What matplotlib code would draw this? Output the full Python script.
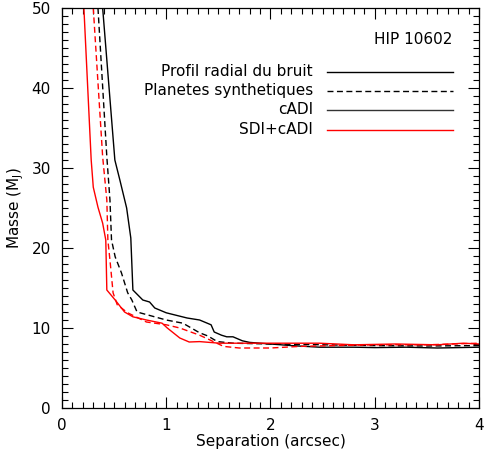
import matplotlib
matplotlib.use("Agg")
import matplotlib.pyplot as plt
from matplotlib.ticker import MultipleLocator

# cADI, radial noise profile (solid black)
sep_cadi_prof = [0.39, 0.507, 0.555, 0.62, 0.66, 0.68, 0.775, 0.84, 0.89, 1.0, 1.2, 1.32, 1.43,
                 1.46, 1.53, 1.58, 1.64, 1.73, 1.8, 2.0, 2.2, 2.47, 2.8, 3.0, 3.3, 3.6, 4.0]
mass_cadi_prof = [50, 31.0, 28.5, 25.0, 21.25, 14.75, 13.5, 13.25, 12.5, 11.9, 11.25, 11.0, 10.4,
                  9.5, 9.1, 8.9, 8.9, 8.4, 8.2, 8.0, 7.8, 7.6, 7.6, 7.55, 7.6, 7.5, 7.6]

# cADI, synthetic planets (dashed black)
sep_cadi_synth = [0.345, 0.43, 0.46, 0.475, 0.51, 0.57, 0.63, 0.67, 0.72, 1.0, 1.16, 1.32, 1.40,
                  1.49, 1.64, 2.0, 2.5, 3.0, 3.5, 4.0]
mass_cadi_synth = [50, 31.4, 26.0, 21.0, 18.9, 16.9, 14.4, 13.5, 12.0, 11.0, 10.6, 9.4, 9.0,
                   8.3, 8.1, 8.0, 7.9, 7.8, 7.75, 7.8]

# SDI+cADI, radial noise profile (solid red)
sep_sdi_prof = [0.21, 0.28, 0.30, 0.345, 0.39, 0.42, 0.43, 0.51, 0.60, 0.68, 0.81, 0.96, 1.01,
                1.13, 1.22, 1.32, 1.51, 2.0, 2.47, 2.8, 3.2, 3.6, 3.85, 4.0]
mass_sdi_prof = [50, 31.0, 27.6, 25.1, 23.1, 21.0, 14.75, 13.5, 12.0, 11.4, 11.0, 10.6, 10.0,
                 8.75, 8.25, 8.3, 8.1, 8.1, 8.1, 7.9, 8.0, 7.9, 8.1, 8.0]

# SDI+cADI, synthetic planets (dashed red)
sep_sdi_synth = [0.30, 0.39, 0.43, 0.44, 0.46, 0.49, 0.53, 0.63, 0.81, 1.0, 1.13, 1.32, 1.42,
                 1.55, 1.70, 2.0, 2.28, 2.6, 3.0, 3.5, 4.0]
mass_sdi_synth = [50, 31.4, 26.0, 21.0, 18.5, 14.4, 12.9, 11.9, 10.75, 10.4, 10.0, 9.1, 8.5,
                  7.7, 7.5, 7.5, 7.7, 7.8, 7.9, 7.9, 8.1]

legend_labels = ["Profil radial du bruit", "Planetes synthetiques", "cADI", "SDI+cADI"]
title_text = "HIP 10602"

plt.rcParams['font.family'] = ['DejaVu Sans']
fs = 11
fig = plt.figure(figsize=(4.85, 4.55), dpi=100)
ax = fig.add_axes([62/485, 1 - 408/455, 417/485, 400/455])

ax.plot(sep_cadi_prof, mass_cadi_prof, color='black', lw=1.0)
ax.plot(sep_cadi_synth, mass_cadi_synth, color='black', lw=1.0, dashes=(4.3, 2.5))
ax.plot(sep_sdi_prof, mass_sdi_prof, color='red', lw=1.0)
ax.plot(sep_sdi_synth, mass_sdi_synth, color='red', lw=1.0, dashes=(4.3, 2.5))

ax.set_xlim(0, 4)
ax.set_ylim(0, 50)
ax.xaxis.set_major_locator(MultipleLocator(1))
ax.xaxis.set_minor_locator(MultipleLocator(0.1))
ax.yaxis.set_major_locator(MultipleLocator(10))
ax.yaxis.set_minor_locator(MultipleLocator(1))
ax.tick_params(which='both', direction='in', top=True, right=True, width=0.8, labelsize=fs)
ax.tick_params(which='major', length=8)
ax.tick_params(axis='x', which='major', pad=7)
ax.tick_params(axis='y', which='major', pad=8)
ax.tick_params(which='minor', length=4)
for s in ax.spines.values():
    s.set_linewidth(0.9)

ax.set_xlabel('Separation (arcsec)', fontsize=fs, labelpad=1)
ax.set_ylabel('Masse (M$_\\mathrm{J}$)', fontsize=fs, labelpad=4)

# legend drawn by hand, IDL style
ax.text(0.935, 0.92, title_text, transform=ax.transAxes, ha='right', va='center', fontsize=fs)
row_y = [0.84, 0.7925, 0.745, 0.695]
styles = [dict(color='black'), dict(color='black', dashes=(4.3, 2.5)),
          dict(color='#333333'), dict(color='red')]
for lab, yy, st in zip(legend_labels, row_y, styles):
    ax.text(0.602, yy, lab, transform=ax.transAxes, ha='right', va='center', fontsize=fs)
    ax.plot([0.636, 0.938], [yy, yy], transform=ax.transAxes, lw=1.0, **st)

fig.savefig('out.png', dpi=100)
